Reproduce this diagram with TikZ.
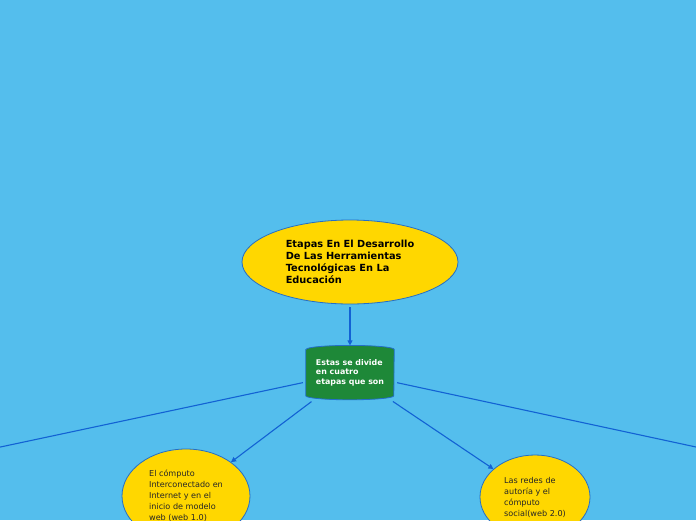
\documentclass[tikz,border=0pt]{standalone}
\usepackage{fontspec}
\setmainfont{DejaVu Sans}
\usetikzlibrary{arrows.meta,positioning,shapes.geometric,backgrounds}

\definecolor{skyback}{RGB}{84,190,237}
\definecolor{goldfill}{RGB}{255,215,0}
\definecolor{stagegreen}{RGB}{30,136,56}
\definecolor{rimblue}{RGB}{35,110,200}
\definecolor{linkblue}{RGB}{18,98,212}

\begin{document}
\begin{tikzpicture}[
  x=1pt, y=-1pt,
  topic/.style={ellipse, draw=rimblue, line width=0.8pt, fill=goldfill,
    align=left, text=black, inner sep=2pt},
  stagebox/.style={rectangle, text=white, align=left,
    minimum width=88pt, minimum height=54pt, inner sep=2pt,
    font=\fontsize{7.9}{9.6}\selectfont\bfseries},
  stageshape/.style={draw=rimblue, line width=0.8pt, fill=stagegreen},
  leaf/.style={topic, font=\fontsize{8.1}{11}\selectfont, text=black!85},
  conn/.style={linkblue, line width=1.1pt, shorten <=3pt},
  arr/.style={conn, -{Triangle[length=5pt, width=5pt]}}
]
  \begin{scope}[on background layer]
    \fill[skyback] (0,0) rectangle (696,520);
  \end{scope}
  \useasboundingbox (0,0) rectangle (696,520);

  \node[topic, minimum width=216pt, minimum height=84pt,
    font=\fontsize{9.8}{12}\selectfont\bfseries] (title) at (350,262)
    {Etapas En El Desarrollo\\De Las Herramientas\\Tecnológicas En La\\Educación};
  \node[stagebox, below=41pt of title] (stg)
    {Estas se divide\\en cuatro\\etapas que son};
  \node[leaf, minimum width=128pt, minimum height=94pt] (web1) at (186,496)
    {El cómputo\\Interconectado en\\Internet y en el\\inicio de modelo\\web (web 1.0)};
  \node[leaf, minimum width=110pt, minimum height=84pt] (web2) at (535,497)
    {Las redes de\\autoría y el\\cómputo\\social(web 2.0)};

  % cylinder behind the stage text
  \begin{scope}[on background layer]
    \draw[stageshape] ([yshift=-4pt]stg.north west)
      -- ([yshift=4pt]stg.south west)
      arc[start angle=180, end angle=360, x radius=44pt, y radius=4pt]
      -- ([yshift=-4pt]stg.north east)
      arc[start angle=0, end angle=180, x radius=44pt, y radius=4pt]
      -- cycle;
  \end{scope}

  % off-page branches
  \coordinate (farleft) at (-40,455.6);
  \coordinate (farright) at (736,455.6);

  \draw[arr] (title) -- (stg);
  \draw[arr] (stg) -- (web1);
  \draw[arr] (stg) -- (web2);
  \draw[conn] (stg) -- (farleft);
  \draw[conn] (stg) -- (farright);
\end{tikzpicture}
\end{document}
